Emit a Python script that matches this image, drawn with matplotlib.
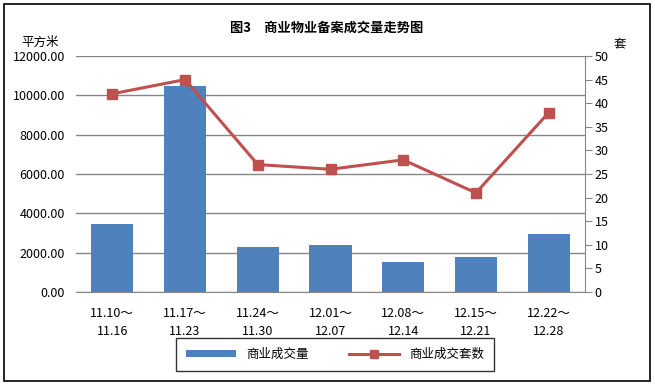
import matplotlib
matplotlib.use("Agg")
import matplotlib.pyplot as plt
from matplotlib.patches import Rectangle
from matplotlib.lines import Line2D
from matplotlib.patches import Patch

plt.rcParams['font.family'] = ['Noto Sans CJK SC', 'DejaVu Sans']

categories = ["11.10～\n11.16", "11.17～\n11.23", "11.24～\n11.30", "12.01～\n12.07",
              "12.08～\n12.14", "12.15～\n12.21", "12.22～\n12.28"]
area = [3460, 10450, 2290, 2410, 1530, 1780, 2950]
units = [42, 45, 27, 26, 28, 21, 38]
left_ticks = [0, 2000, 4000, 6000, 8000, 10000, 12000]
right_ticks = [0, 5, 10, 15, 20, 25, 30, 35, 40, 45, 50]

W, H = 655, 386
fig = plt.figure(figsize=(W / 100, H / 100), dpi=100)
fig.patch.set_facecolor('white')
fig.add_artist(Rectangle((4 / W, 5 / H), 646 / W, 377 / H, transform=fig.transFigure,
                         fill=False, edgecolor='black', linewidth=1.2))

ax = fig.add_axes([76 / W, 1 - 292 / H, 509 / W, 236 / H])
x = list(range(len(categories)))
ax.bar(x, area, width=0.58, color='#4F81BD', zorder=3)
ax.set_xlim(-0.5, len(categories) - 0.5)
ax.set_ylim(0, 12000)
ax.set_yticks(left_ticks)
ax.set_yticklabels([f"{v:.2f}" for v in left_ticks], fontsize=9)
ax.yaxis.grid(True, color='#868686', linewidth=1, zorder=0)
ax.set_axisbelow(True)
ax.set_xticks(x)
ax.set_xticklabels(categories, fontsize=9, linespacing=1.45)
ax.tick_params(axis='x', length=0, pad=11)
ax.tick_params(axis='y', length=0, pad=8)
for s in ['left', 'top', 'right']:
    ax.spines[s].set_visible(False)
ax.spines['bottom'].set_color('#868686')

ax2 = ax.twinx()
ax2.plot(x, units, color='#C0504D', linewidth=2.2, marker='s', markersize=7,
         markerfacecolor='#C0504D', markeredgecolor='#C0504D', zorder=4)
ax2.set_ylim(0, 50)
ax2.set_yticks(right_ticks)
ax2.set_yticklabels([str(v) for v in right_ticks], fontsize=9)
ax2.tick_params(axis='y', direction='out', length=5, color='#868686', pad=2)
for s in ['left', 'top', 'bottom']:
    ax2.spines[s].set_visible(False)
ax2.spines['right'].set_color('#868686')

fig.text(327 / W, 1 - 28 / H, "图3　商业物业备案成交量走势图", ha='center', va='center',
         fontsize=9.5, fontweight='bold')
fig.text(40 / W, 1 - 42 / H, "平方米", ha='center', va='center', fontsize=9)
fig.text(620 / W, 1 - 44 / H, "套", ha='center', va='center', fontsize=9)

handles = [Patch(facecolor='#4F81BD', edgecolor='none'),
           Line2D([0], [0], color='#C0504D', linewidth=2.2, marker='s', markersize=6)]
leg = fig.legend(handles, ["商业成交量", "商业成交套数"], loc='center',
                 bbox_to_anchor=(335 / W, 1 - 354 / H), ncol=2, fontsize=9,
                 frameon=True, fancybox=False, edgecolor='black', columnspacing=3.2,
                 handlelength=4.0, handleheight=0.5, borderpad=0.8, borderaxespad=0)
leg.get_frame().set_linewidth(1)

fig.savefig("out.png", dpi=100)
